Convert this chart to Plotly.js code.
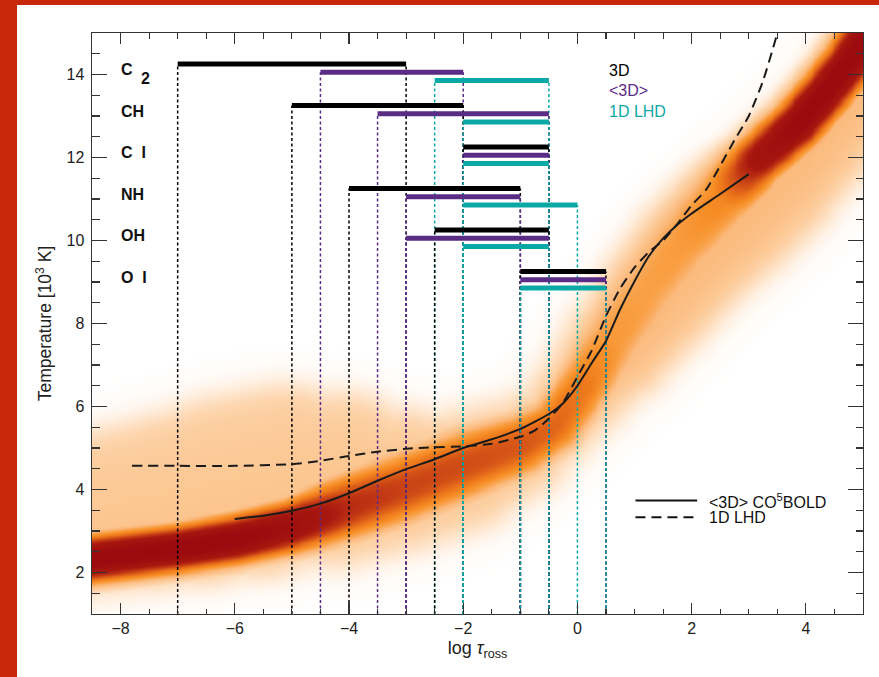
<!DOCTYPE html>
<html>
<head>
<meta charset="utf-8">
<script src="https://cdn.plot.ly/plotly-3.0.1.min.js"></script>
<style>
  html, body { margin: 0; padding: 0; width: 879px; height: 677px; overflow: hidden; background: #c9270a; }
  #chart { position: absolute; left: 17px; top: 5px; width: 862px; height: 672px; background: #ffffff; }
</style>
</head>
<body>
<div id="chart"></div>
<script>
// ---------------- data ----------------
// formation ranges of the abundance indicators (log tau_ross)
const species    = ['C', 'CH', 'C\u00a0\u00a0I', 'NH', 'OH', 'O\u00a0\u00a0I'];
const speciesSub = ['2', '', '', '', '', ''];
const rowTemp    = [14, 13, 12, 11, 10, 9];

const from3D     = [-7.0, -5.0, -2.0, -4.0, -2.5, -1.0];
const to3D       = [-3.0, -2.0, -0.5, -1.0, -0.5,  0.5];
const fromMean3D = [-4.5, -3.5, -2.0, -3.0, -3.0, -1.0];
const toMean3D   = [-2.0, -0.5, -0.5, -1.0, -0.5,  0.5];
const from1D     = [-2.5, -2.0, -2.0, -2.0, -2.0, -1.0];
const to1D       = [-0.5, -0.5, -0.5,  0.0, -0.5,  0.5];

// <3D> CO5BOLD temperature structure
const meanTau  = [-6, -5.5, -5, -4.5, -4, -3.5, -3, -2.5, -2, -1.5, -1, -0.5, -0.25, 0, 0.25, 0.5, 0.75, 1, 1.25, 1.5, 1.75, 2, 2.5, 3];
const meanTemp = [3.29, 3.37, 3.49, 3.66, 3.91, 4.21, 4.49, 4.73, 5.0, 5.21, 5.46, 5.82, 6.08, 6.5, 7.05, 7.58, 8.35, 9.02, 9.62, 10.05, 10.38, 10.65, 11.12, 11.6];

// 1D LHD temperature structure
const lhdTau  = [-7.8, -7, -6, -5, -4.5, -4, -3.5, -3, -2.5, -2, -1.5, -1, -0.75, -0.5, -0.25, 0, 0.25, 0.5, 0.75, 1, 1.25, 1.5, 1.75, 2, 2.25, 2.5, 2.75, 3, 3.25, 3.5];
const lhdTemp = [4.57, 4.57, 4.57, 4.61, 4.69, 4.81, 4.91, 4.98, 5.02, 5.04, 5.1, 5.27, 5.42, 5.71, 6.1, 6.72, 7.35, 8.18, 8.85, 9.35, 9.72, 10.0, 10.4, 10.85, 11.22, 11.8, 12.42, 13.0, 13.85, 14.99];

// 3D temperature distribution: ridge of the density, core spread and outer extent (kK)
const ridgeTau   = [-9.0, -7.0, -6.0, -5.0, -4.0, -3.0, -2.0, -1.0, -0.4, 0.1, 0.6, 1.2, 1.8, 2.5, 3.15, 3.85, 4.35, 4.75, 5.3];
const ridgeTemp  = [2.25, 2.58, 2.80, 3.12, 3.60, 4.08, 4.60, 5.08, 5.55, 6.5, 7.6, 8.8, 9.9, 11.0, 11.95, 12.8, 13.6, 14.3, 15.5];
const ridgePeak  = [1.0, 1.0, 1.0, 0.92, 0.74, 0.68, 0.66, 0.64, 0.60, 0.55, 0.43, 0.40, 0.42, 0.50, 0.86, 1.0, 1.0, 1.0, 0.95];
const coreSpread = [0.62, 0.62, 0.64, 0.68, 0.85, 0.90, 0.90, 0.80, 0.72, 0.75, 0.90, 1.0, 1.0, 0.9, 0.68, 0.66, 0.66, 0.66, 0.66];
const haloPeak   = [0.27, 0.27, 0.27, 0.27, 0.27, 0.27, 0.27, 0.28, 0.29, 0.31, 0.34, 0.34, 0.34, 0.34, 0.34, 0.34, 0.34, 0.34, 0.34];
const haloAbove  = [2.9, 3.25, 3.45, 3.4, 2.75, 1.85, 1.28, 1.1, 1.05, 1.0, 1.0, 0.95, 0.9, 0.75, 0.65, 0.65, 0.65, 0.65, 0.65];
const haloBelow  = [0.8, 0.85, 0.9, 1.0, 1.35, 1.5, 1.55, 1.2, 0.9, 1.1, 1.45, 1.7, 1.85, 2.05, 2.1, 1.9, 1.8, 1.7, 1.7];

// ---------------- layout constants ----------------
const xRange = [-8.5, 5];
const yRange = [1, 15];
const W = 862, H = 672;
const M = { l: 75, r: 16, t: 28, b: 63 };

const BLACK = '#000000', PURPLE = '#5b2c86', TEAL = '#0aa9a6';
const modelColors = [BLACK, PURPLE, TEAL];
const rowOffsets = [0.255, 0.055, -0.145];
const FONT = 'Liberation Sans, Arial, Helvetica, sans-serif';
const EDGE_SOFTNESS = 0.22;

// ---------------- density field ----------------
const pxPerTau = (W - M.l - M.r) / (xRange[1] - xRange[0]);
const pxPerK = (H - M.t - M.b) / (yRange[1] - yRange[0]);
const aspect = pxPerTau / pxPerK;

const gx = [], gy = [];
for (let i = 0; i <= 270; i++) gx.push(xRange[0] + i * 0.05);
for (let j = 0; j <= 280; j++) gy.push(yRange[0] + j * 0.05);
const rx = ridgeTau.map(v => v * aspect);

// each ridge segment contributes a smooth field; the density is their upper envelope
const zField = gy.map(T => gx.map(tau => {
  const p = tau * aspect;
  let z = 0;
  for (let i = 0; i < rx.length - 1; i++) {
    const ax = rx[i], ay = ridgeTemp[i];
    const dx = rx[i + 1] - ax, dy = ridgeTemp[i + 1] - ay;
    const len = Math.hypot(dx, dy);
    let t = ((p - ax) * dx + (T - ay) * dy) / (len * len);
    t = Math.max(0, Math.min(1, t));
    const d = Math.hypot(ax + t * dx - p, ay + t * dy - T);
    const lerp = a => a[i] + (a[i + 1] - a[i]) * t;
    const sine = d > 1e-9 ? (dx * (T - ay) - dy * (p - ax)) / (len * d) : 0;
    const wUp = (1 + sine) / 2;
    const e = lerp(haloBelow) * (1 - wUp) + lerp(haloAbove) * wUp;
    const core = lerp(ridgePeak) * Math.exp(-Math.pow(d / lerp(coreSpread), 2.5));
    const halo = lerp(haloPeak) * (1 - 0.25 * Math.min(d / e, 1)) / (1 + Math.exp((d - e) / EDGE_SOFTNESS));
    z = Math.max(z, core, halo);
  }
  return z;
}));

const traces = [];
traces.push({
  type: 'heatmap', x: gx, y: gy, z: zField, zmin: 0, zmax: 1, zsmooth: 'best',
  showscale: false, hoverinfo: 'skip',
  colorscale: [
    [0.00, '#ffffff'], [0.04, '#fff4ea'], [0.10, '#fee5cc'], [0.16, '#fdd7b1'],
    [0.24, '#fcc894'], [0.32, '#fbb87a'], [0.40, '#f9a046'], [0.48, '#f68c24'],
    [0.56, '#ec761b'], [0.64, '#d65517'], [0.72, '#bd3213'], [0.80, '#a8180f'],
    [1.00, '#9a0a0f']
  ]
});

// ---------------- formation ranges ----------------
const models = [[from3D, to3D], [fromMean3D, toMean3D], [from1D, to1D]];

// dotted drops from the lower axis up to each range end (same dash phase for all)
rowTemp.forEach((rt, r) => {
  models.forEach((m, k) => {
    const yb = rt + rowOffsets[k];
    traces.push({
      type: 'scatter', mode: 'lines', hoverinfo: 'skip',
      x: [m[0][r], m[0][r], null, m[1][r], m[1][r]],
      y: [yRange[0], yb, null, yRange[0], yb],
      line: { color: modelColors[k], width: 1.5, dash: '3px,2.5px' }
    });
  });
});

// thick horizontal range bars
rowTemp.forEach((rt, r) => {
  models.forEach((m, k) => {
    const yb = rt + rowOffsets[k];
    traces.push({
      type: 'scatter', mode: 'lines', hoverinfo: 'skip',
      x: [m[0][r], m[1][r]], y: [yb, yb],
      line: { color: modelColors[k], width: 5 }
    });
  });
});

// temperature structures
traces.push({
  type: 'scatter', mode: 'lines', x: lhdTau, y: lhdTemp, hoverinfo: 'skip',
  line: { color: '#1a1a1a', width: 2, dash: '10px,6px', shape: 'spline', smoothing: 0.6 }
});
traces.push({
  type: 'scatter', mode: 'lines', x: meanTau, y: meanTemp, hoverinfo: 'skip',
  line: { color: '#1a1a1a', width: 2, shape: 'spline', smoothing: 0.6 }
});

// ---------------- annotations ----------------
const annotations = [];
species.forEach((s, i) => {
  annotations.push({
    x: -8.02, y: rowTemp[i] + 0.12, xref: 'x', yref: 'y', text: '<b>' + s + '</b>', showarrow: false,
    xanchor: 'left', yanchor: 'middle',
    font: { family: FONT, size: 16, color: '#111' }
  });
  if (speciesSub[i]) {
    annotations.push({
      x: -8.02, y: rowTemp[i] + 0.12, xref: 'x', yref: 'y', text: '<b>' + speciesSub[i] + '</b>', showarrow: false,
      xanchor: 'left', yanchor: 'middle', xshift: 20, yshift: -9,
      font: { family: FONT, size: 16, color: '#111' }
    });
  }
});

const modelNames = ['3D', '&lt;3D&gt;', '1D LHD'];
modelNames.forEach((n, k) => {
  annotations.push({
    x: 0.52, y: 14.1 - k * 0.495, xref: 'x', yref: 'y', text: n, showarrow: false,
    xanchor: 'left', yanchor: 'middle',
    font: { family: FONT, size: 16, color: modelColors[k] }
  });
});

annotations.push({
  x: 2.26, y: 3.735, xref: 'x', yref: 'y', text: '&lt;3D&gt; CO<sup>5</sup>BOLD', showarrow: false,
  xanchor: 'left', yanchor: 'middle', font: { family: FONT, size: 16, color: '#111' }
});
annotations.push({
  x: 2.26, y: 3.33, xref: 'x', yref: 'y', text: '1D LHD', showarrow: false,
  xanchor: 'left', yanchor: 'middle', font: { family: FONT, size: 16, color: '#111' }
});

const shapes = [
  { type: 'line', xref: 'x', yref: 'y', x0: 1.016, x1: 2.096, y0: 3.735, y1: 3.735,
    line: { color: '#111', width: 2 } },
  { type: 'line', xref: 'x', yref: 'y', x0: 1.016, x1: 2.096, y0: 3.33, y1: 3.33,
    line: { color: '#111', width: 2, dash: '10px,6px' } }
];

const axisCommon = {
  ticks: 'inside', tickwidth: 1.2, tickcolor: '#333', mirror: 'allticks',
  showline: true, linecolor: '#333', linewidth: 1.4,
  showgrid: false, zeroline: false, tick0: 0, dtick: 2,
  tickfont: { family: FONT, size: 16, color: '#222' }
};

const layout = {
  width: W, height: H, margin: M,
  paper_bgcolor: '#ffffff', plot_bgcolor: '#ffffff',
  showlegend: false,
  font: { family: FONT, size: 16, color: '#222' },
  xaxis: Object.assign({}, axisCommon, {
    range: xRange, ticklen: 11, ticklabelstandoff: -1,
    minor: { dtick: 0.5, ticks: 'inside', ticklen: 5.5, tickwidth: 1.2, tickcolor: '#333', showgrid: false },
    title: { text: 'log <i>τ</i><sub>ross</sub>', font: { family: FONT, size: 18, color: '#222' }, standoff: 6 }
  }),
  yaxis: Object.assign({}, axisCommon, {
    range: yRange, ticklen: 15, ticklabelstandoff: 3,
    minor: { dtick: 0.5, ticks: 'inside', ticklen: 7.5, tickwidth: 1.2, tickcolor: '#333', showgrid: false },
    title: { text: 'Temperature [10<sup>3</sup> K]', font: { family: FONT, size: 17.5, color: '#222' }, standoff: 10 }
  }),
  annotations: annotations,
  shapes: shapes
};

Plotly.newPlot('chart', traces, layout, { staticPlot: true, displayModeBar: false });
</script>
</body>
</html>
